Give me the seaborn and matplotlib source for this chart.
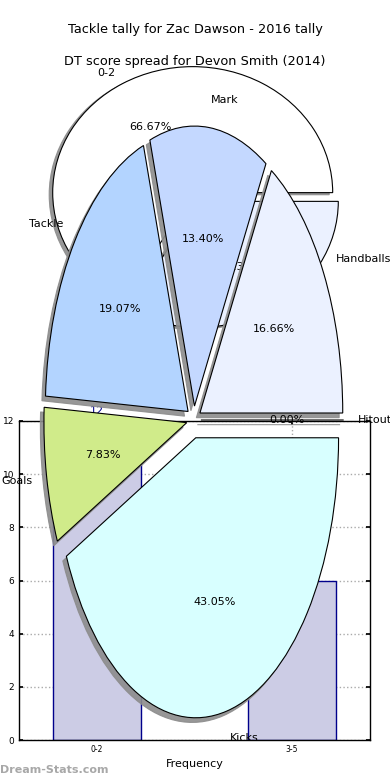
import pandas as pd
import seaborn as sns
import matplotlib
matplotlib.use("Agg")
import matplotlib.pyplot as plt

# main pie - tackle tally
stat_labels = ["Hitout", "Handballs", "Mark", "Tackle", "Goals", "Kicks"]
stat_pct = [0.00, 16.66, 13.40, 19.07, 7.83, 43.05]
stat_colors = ["#d8ffff", "#ebf1ff", "#c4d8ff", "#b3d4ff", "#d0eb8a", "#d8ffff"]

# second pie - DT score spread
dt_labels = ["0-2", "3-5"]
dt_pct = [66.67, 33.33]
dt_colors = ["#ffffff", "#ebf1ff"]

# bar chart - frequency
freq_bins = ["0-2", "3-5"]
freq_counts = [12, 6]

sns.set_theme(style="white")
plt.rcParams["font.family"] = ["DejaVu Sans"]
plt.rcParams["text.color"] = "black"
plt.rcParams["axes.labelcolor"] = "black"
plt.rcParams["xtick.color"] = "black"
plt.rcParams["ytick.color"] = "black"

shadow_kw = {"ox": -0.018, "oy": -0.012, "facecolor": "#8c8c8c",
             "edgecolor": "#8c8c8c", "alpha": 0.9}
edge_kw = {"edgecolor": "black", "linewidth": 0.8}

fig = plt.figure(figsize=(3.9, 7.8), dpi=100)

# bar chart underneath
axb = fig.add_axes([19/390, 40/780, 351/390, 319/780], zorder=0)
df = pd.DataFrame({"bin": freq_bins, "count": freq_counts})
sns.barplot(data=df, x="bin", y="count", width=0.45, color="#ccccE5",
            edgecolor="#00008b", linewidth=1, saturation=1, ax=axb)
axb.set_xlim(-0.4, 1.4)
axb.set_ylim(0, 12)
axb.set_yticks(range(0, 13, 2))
axb.grid(True, linestyle=":", color="#aaaaaa", linewidth=1)
axb.set_axisbelow(True)
axb.tick_params(axis="y", labelsize=6.5, direction="in", length=3, left=True, right=True)
axb.tick_params(axis="x", labelsize=5.5, direction="in", length=3, bottom=True, top=True)
for s in axb.spines.values():
    s.set_color("black")
    s.set_linewidth(1)
axb.set_xlabel("Frequency", fontsize=8, labelpad=4)
axb.set_ylabel("Stat Count", fontsize=7, labelpad=2)
for i, v in enumerate(freq_counts):
    axb.text(i, v + 0.2, str(v), ha="center", va="bottom", color="#00008b", fontsize=8)

# DT score spread pie
ax2 = fig.add_axes([20.5/390, (780 - 354.5)/780, 350/390, 315/780], zorder=1)
ax2.pie(dt_pct, labels=dt_labels, colors=dt_colors, explode=[0.04, 0.04],
        autopct="%1.2f%%", startangle=0, shadow=shadow_kw,
        wedgeprops=edge_kw, textprops={"fontsize": 8})
ax2.set_aspect("auto")
ax2.set_xlim(-1.25, 1.25)
ax2.set_ylim(-1.25, 1.25)
ax2.axis("off")
ax2.patch.set_alpha(0)

# tackle tally pie on top
ax1 = fig.add_axes([15.25/390, 10/780, 357/390, 700/780], zorder=2)
ax1.pie(stat_pct, labels=stat_labels, colors=stat_colors,
        explode=[0.05, 0.05, 0.05, 0.05, 0.05, 0.065],
        autopct="%1.2f%%", startangle=0, shadow=shadow_kw,
        wedgeprops=edge_kw, textprops={"fontsize": 8})
ax1.set_aspect("auto")
ax1.set_xlim(-1.25, 1.25)
ax1.set_ylim(-1.25, 1.25)
ax1.axis("off")
ax1.patch.set_alpha(0)

fig.text(0.5, 1 - 30/780, "Tackle tally for Zac Dawson - 2016 tally",
         ha="center", va="center", fontsize=9.3)
fig.text(0.5, 1 - 61/780, "DT score spread for Devon Smith (2014)",
         ha="center", va="center", fontsize=9.3)
fig.text(0.0, 1 - 770/780, "Dream-Stats.com", ha="left", va="center",
         fontsize=8, fontweight="bold", color="#a8a8a8")

fig.savefig("out.png", dpi=100)
